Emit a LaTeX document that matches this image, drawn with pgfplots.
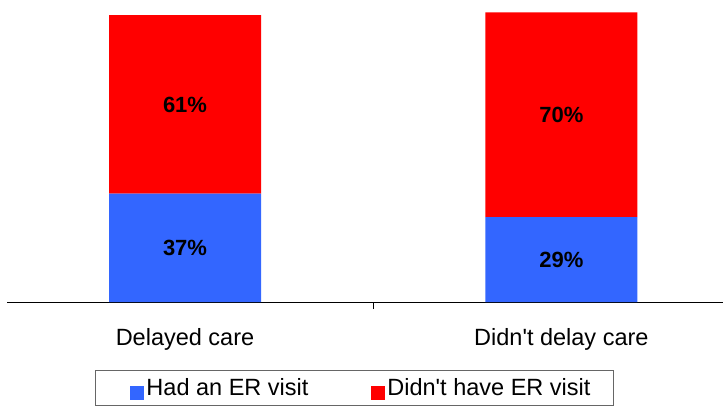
\documentclass[border=0pt]{standalone}
\usepackage{pgfplots}
\pgfplotsset{compat=1.18}
\usepackage{fontspec}
\setmainfont{Liberation Sans}
\definecolor{erblue}{RGB}{51,102,255}
\definecolor{erred}{RGB}{255,0,0}

\begin{document}
\begin{tikzpicture}[x=1bp,y=1bp]
\useasboundingbox (0,0) rectangle (723,406);
\clip (0,0) rectangle (723,406);
\begin{axis}[
  at={(7bp,104bp)}, anchor=south west,
  scale only axis, width=716bp, height=302bp,
  xmin=-0.473, xmax=1.4295, ymin=0, ymax=103.2,
  ybar stacked, bar width=152bp,
  axis x line=bottom, axis y line=none,
  axis line style={-, black, line width=1bp},
  xtick={0.5}, xticklabels={},
  major tick length=7bp, tick align=outside,
  tick style={black, line width=0.8bp},
  extra x ticks={0,1},
  extra x tick labels={Delayed care, Didn\textquotesingle t delay care},
  extra x tick style={major tick length=0pt, tick style={draw=none},
    xticklabel style={anchor=base, yshift=-43bp}},
  ytick=\empty,
  ticklabel style={font=\fontsize{23.5bp}{28bp}\selectfont},
  nodes near coords={\pgfmathprintnumber[fixed, precision=0, assume math mode=true]{\pgfplotspointmeta}\%},
  point meta=rawy,
  every node near coord/.append style={anchor=center, text=black,
    font=\fontsize{22bp}{26bp}\selectfont\bfseries},
  legend columns=2,
  legend style={at={(0.1229,-0.225)}, anchor=north west,
    draw=black!60, line width=1bp,
    font=\fontsize{23.5bp}{28bp}\selectfont,
    inner xsep=35bp, inner ysep=6bp,
    /tikz/column 2/.style={column sep=61bp}},
  legend image code/.code={\fill[#1,draw=none] (-6bp,-12bp) rectangle (8bp,2bp);},
]
\addplot[fill=erblue, draw=none] coordinates {(0,37) (1,29)};
\addplot[fill=erred, draw=none] coordinates {(0,61) (1,70)};
% the frame of the legend runs on below the lower edge
\legend{Had an ER visit\rule[-14bp]{0pt}{1bp}, Didn\textquotesingle t have ER visit\kern-14bp}
\end{axis}
\end{tikzpicture}
\end{document}
